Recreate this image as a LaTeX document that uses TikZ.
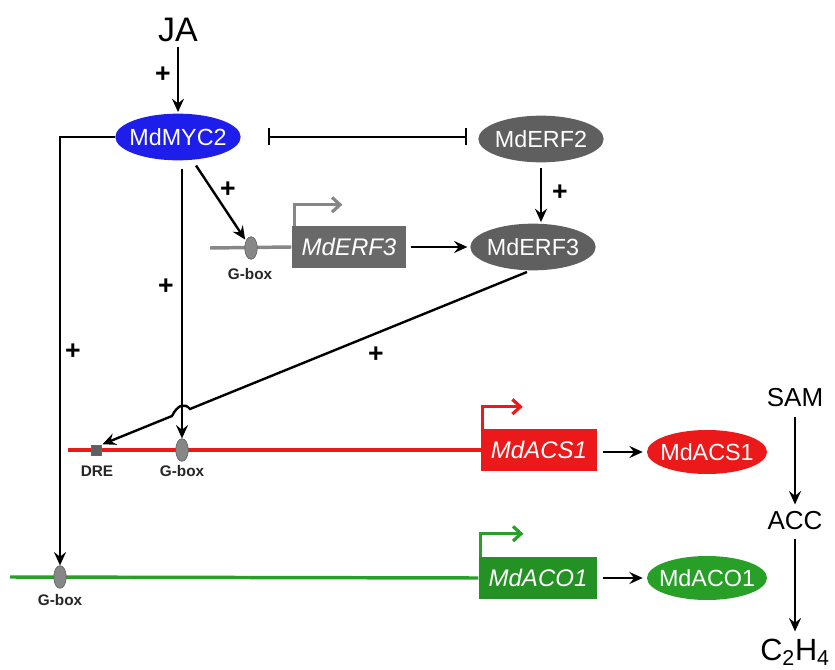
\documentclass[tikz,border=0pt]{standalone}
\usepackage{fontspec}
\setmainfont{Liberation Sans}
\usetikzlibrary{shapes.geometric,arrows.meta,calc}
\definecolor{mblue}{RGB}{30,30,235}
\definecolor{mgray}{RGB}{95,95,95}
\definecolor{bgray}{RGB}{105,105,105}
\definecolor{lgray}{RGB}{135,135,135}
\definecolor{mred}{RGB}{235,25,25}
\definecolor{mgreen}{RGB}{35,145,35}
\definecolor{pgreen}{RGB}{40,160,40}
\begin{document}
\begin{tikzpicture}[x=0.75pt,y=-0.75pt,
 prot/.style={ellipse,minimum width=94pt,minimum height=35pt,inner xsep=-10pt,inner ysep=-4pt,text=white,font=\fontsize{17.5}{17.5}\selectfont},
 gene/.style={rectangle,minimum width=86pt,minimum height=31.5pt,inner sep=0pt,text=white,font=\fontsize{18}{18}\selectfont\itshape},
 gbox/.style={ellipse,minimum width=9.5pt,minimum height=17pt,inner sep=0pt,fill=lgray,draw=gray!70!black,line width=0.4pt},
 lbl/.style={font=\fontsize{11.5}{11.5}\selectfont\bfseries,text=black!85},
 plus/.style={font=\fontsize{20}{20}\selectfont\bfseries},
 big/.style={font=\fontsize{19.5}{19.5}\selectfont},
 act/.style={line width=1.8pt,-{Stealth[length=10pt,width=9pt,inset=3.5pt]}},
 prom/.style={line width=2.4pt,-{Straight Barb[length=6pt,width=11pt]}},
 dna/.style={line width=2.6pt}]
\useasboundingbox (0,0) rectangle (835,670);
% nodes
\node[font=\fontsize{25.5}{25.5}\selectfont] (ja) at (178,30) {JA};
\node[prot,fill=mblue] (myc) at (178,137) {MdMYC2};
\node[prot,fill=mgray] (erf2) at (541,139) {MdERF2};
\node[prot,fill=mgray] (erf3) at (533,247) {MdERF3};
% MdERF3 gene
\coordinate (gl) at (210,248);
\node[gene,fill=bgray] (erf3g) at (349,247) {MdERF3};
\draw[dna,draw=lgray] (gl) -- (erf3g.west);
\node[gbox] (gb1) at (251,248) {};
\node[lbl] (gb1l) at (250,274) {G-box};
\draw[prom,draw=lgray] ([xshift=2.25pt]erf3g.north west) -- ++(0,-21) -- ++(48,0);
% MdACS1 gene
\coordinate (rl) at (68,450);
\node[gene,fill=mred,minimum width=87pt] (acs) at (539,450) {MdACS1};
\draw[dna,mred] (rl) -- (acs.west);
\node[rectangle,minimum size=7.5pt,inner sep=0pt,fill=mgray,draw=black!60] (dre) at (96,450) {};
\node[lbl] (drel) at (97,471) {DRE};
\node[gbox] (gb2) at (182,450) {};
\node[lbl] (gb2l) at (182,471) {G-box};
\draw[prom,mred] ([xshift=1.5pt]acs.north west) -- ++(0,-22) -- ++(40,0);
\node[prot,fill=mred,minimum width=90pt,minimum height=33pt] (acsp) at (707,452) {MdACS1};
\draw[act,shorten <=4pt,shorten >=3pt] (acs.east |- acsp) -- (acsp.west);
% MdACO1 gene
\coordinate (grl) at (10,577);
\node[gene,fill=mgreen,minimum width=89pt] (aco) at (538,578) {MdACO1};
\draw[dna,pgreen] (grl) -- (aco.west);
\node[gbox] (gb3) at (60,577) {};
\node[lbl] (gb3l) at (60,600) {G-box};
\draw[prom,pgreen] ([xshift=1.5pt]aco.north west) -- ++(0,-23) -- ++(43,0);
\node[prot,fill=pgreen,minimum width=90pt,minimum height=33pt] (acop) at (707,578) {MdACO1};
\draw[act,shorten <=4pt,shorten >=3pt] (aco.east |- acop) -- (acop.west);
% pathway
\node[big] (sam) at (795,398) {SAM};
\node[big] (acc) at (795,521) {ACC};
\node[font=\fontsize{23}{23}\selectfont] (c2h4) at (795,652) {C\textsubscript{2}H\textsubscript{4}};
\draw[act,shorten <=4pt,shorten >=2pt] (sam) -- (acc);
\draw[act,shorten <=3pt,shorten >=2pt] (acc) -- (c2h4);
% connectors
\draw[act,shorten >=1pt] (ja) -- (myc);
\node[plus] at (163,75) {+};
\draw[line width=1.8pt,{Bar[width=12.75pt]}-{Bar[width=12.75pt]},shorten <=20pt,shorten >=8pt] (myc.east) -- (erf2.west |- myc.east);
\draw[act,shorten <=4pt,shorten >=1pt] (erf2.south) -- (erf2.south |- erf3.north);
\node[plus] at (560,193) {+};
\draw[act,shorten <=3pt,shorten >=2pt] (erf3g) -- (erf3);
\draw[act,shorten <=5pt,shorten >=1pt] (myc.-58) -- (gb1.125);
\node[plus] at (228,190) {+};
\draw[act,shorten <=6pt] (myc.south -| gb2) -- (gb2.north);
\node[plus] at (166,287) {+};
\draw[act] (myc.west) -| (gb3.north);
\node[plus] at (73,352) {+};
\coordinate (s) at (527,272);
\coordinate (h1) at (190,409);
\coordinate (h2) at (172,416);
\draw[act,shorten >=1pt] (s) -- (h1) .. controls (185,403) and (178,404) .. (h2) -- (dre.north east);
\node[plus] at (376,355) {+};
\end{tikzpicture}
\end{document}
